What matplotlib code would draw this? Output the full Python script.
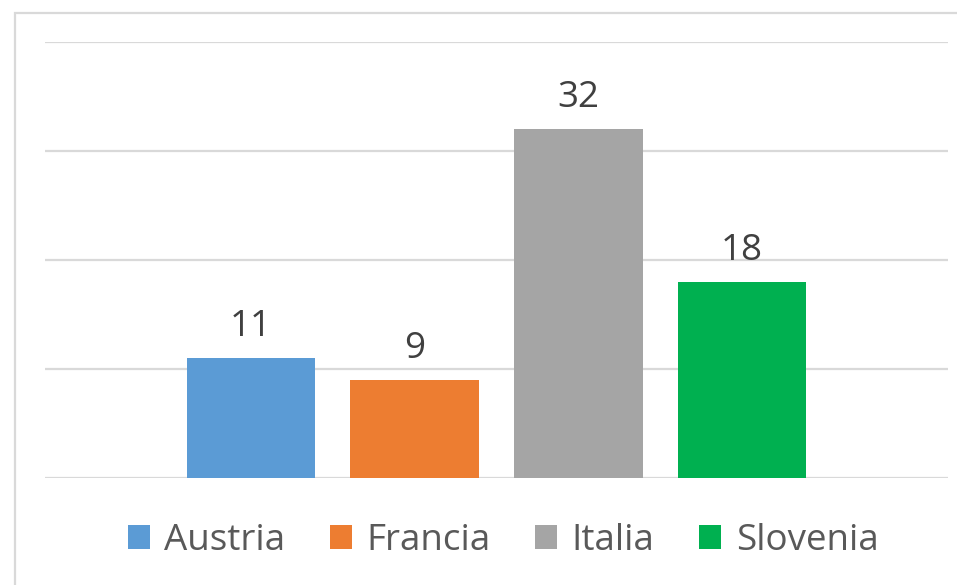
import matplotlib.pyplot as plt
from matplotlib.patches import Rectangle
import numpy as np

# dati
paesi = ['Austria', 'Francia', 'Italia', 'Slovenia']
valori = [11, 9, 32, 18]
colori = ['#5B9BD5', '#ED7D31', '#A5A5A5', '#00B050']
griglia = [0, 10, 20, 30, 40]

plt.rcParams['font.family'] = ['Open Sans', 'DejaVu Sans']

fig = plt.figure(figsize=(9.57, 5.85), dpi=100)
ax = fig.add_axes([45/957, 1-478/585, (948-45)/957, (478-42)/585])

# bordo del grafico
fig.add_artist(Rectangle((15/957, -0.1), 1.2, 1-13/585+0.1, transform=fig.transFigure,
                         fill=False, edgecolor='#d9d9d9', linewidth=1.6))

x = np.arange(len(paesi))
for i in range(len(paesi)):
    ax.bar(x[i], valori[i], width=0.787, color=colori[i], label=paesi[i], zorder=3)
    ax.text(x[i], valori[i] + 2.0, str(valori[i]), ha='center', va='baseline',
            fontsize=26.5, color='#404040')

for g in griglia:
    ax.axhline(g, color='#d9d9d9', linewidth=1.6, zorder=1)

ax.set_xlim(-1.26, 4.26)
ax.set_ylim(0, 40)
ax.axis('off')

fig.legend(loc='center', bbox_to_anchor=(503/957, 1-541/585), ncol=4, frameon=False,
           fontsize=26.5, labelcolor='#595959', handlelength=0.6, handleheight=0.6,
           handletextpad=0.4, columnspacing=1.2, borderaxespad=0)

fig.savefig('out.png', dpi=100)
